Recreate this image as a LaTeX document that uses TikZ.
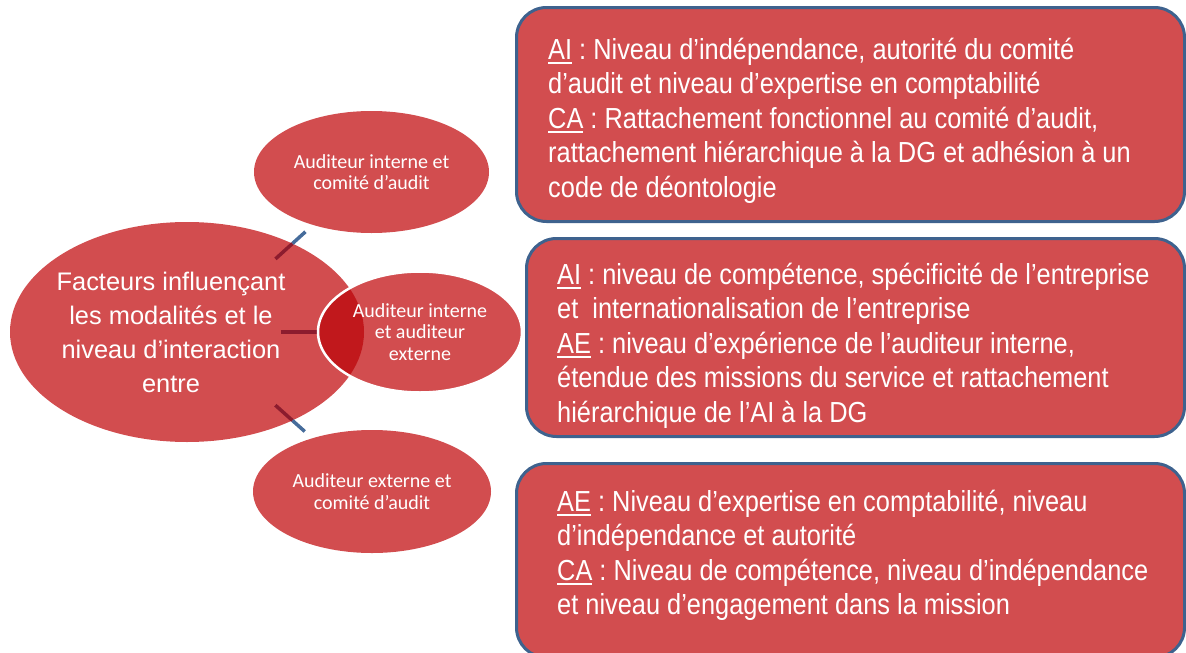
\documentclass[tikz,border=0pt]{standalone}
\usepackage{fontspec}
\setmainfont{Liberation Sans}
\newfontfamily\boxfont[FakeStretch=0.875]{Liberation Sans}
\newfontfamily\ellfont{Carlito}
\usetikzlibrary{positioning,shapes.geometric,calc}
\frenchspacing

\definecolor{redfill}{RGB}{210,77,79}
\definecolor{redoverlap}{RGB}{193,24,28}
\definecolor{linkred}{RGB}{140,28,46}
\definecolor{linkblue}{RGB}{70,108,155}
\definecolor{boxline}{RGB}{62,98,142}

\newcommand\keyw[1]{\setbox0=\hbox{#1}\rlap{\rule[-4.5pt]{\wd0}{2.2pt}}\box0{}}
\newcommand\topline{\rule{0pt}{30pt}}

\begin{document}
\begin{tikzpicture}[x=1pt,y=-1pt,on grid,
   factor/.style={ellipse, fill=redfill, inner sep=0pt, text=white, align=center,
                  font=\ellfont\fontsize{20}{21.5}\selectfont},
   detail/.style={rectangle, rounded corners=30pt, draw=boxline, line width=3pt,
                  fill=redfill, anchor=north west},
   detailtext/.style={text=white, align=left, anchor=north west, inner sep=0pt,
                  font=\boxfont\fontsize{29}{34.5}\selectfont},
   linkin/.style={draw=linkred, line width=3.5pt},
   linkout/.style={draw=linkblue, line width=3.5pt}]
   \useasboundingbox (0,0) rectangle (1186,653);

   \node[ellipse, fill=redfill, minimum width=354pt, minimum height=220pt] (main) at (187,332) {};
   \node[text=white, align=center, font=\fontsize{25.4}{34}\selectfont] (title)
        at ([xshift=-16pt]main.center) {Facteurs influençant\\les modalités et le\\niveau d’interaction\\entre};

   \node[factor, minimum width=235pt, minimum height=122pt] (top) [above right=160pt and 184.5pt of main]
        {Auditeur interne et\\comité d’audit};
   \node[factor, minimum width=238pt, minimum height=123pt] (bot) [below right=159.5pt and 185pt of main]
        {Auditeur externe et\\comité d’audit};

   \draw[linkin]  ($(main.40)!-23pt!(top)$) -- (main.40);
   \draw[linkout, shorten >=10pt] (main.40) -- (top);
   \draw[linkin]  ($(main.-40)!-23pt!(bot)$) -- (main.-40);
   \draw[linkout, shorten >=10pt] (main.-40) -- (bot);
   \draw[linkin]  ($(main.center)!0.53!(main.east)$) -- (main.east);

   \node[factor, minimum width=204pt, minimum height=121pt, draw=white, line width=2.5pt,
         path picture={\fill[redoverlap] (main.center) ellipse [x radius=177pt, y radius=110pt];}]
        (mid) [right=233pt of main] {Auditeur interne\\et auditeur\\externe};

   % boxes on the right
   \node[detail, minimum width=668pt, minimum height=214pt] (box1) at (515,6) {};
   \node[detail, minimum width=658pt, minimum height=198pt] (box2) at (525,237) {};
   \node[detail, minimum width=668pt, minimum height=194pt] (box3) at (515,462) {};

   \node[detailtext] (text1) at (548,29) {\topline\keyw{AI} : Niveau d’indépendance, autorité du comité\\
      d’audit et niveau d’expertise en comptabilité\\
      \keyw{CA} : Rattachement fonctionnel au comité d’audit,\\
      rattachement hiérarchique à la DG et adhésion à un\\
      code de déontologie};
   \node[detailtext] (text2) at (557,254) {\topline\keyw{AI} : niveau de compétence, spécificité de l’entreprise\\
      et~ internationalisation de l’entreprise\\
      \keyw{AE} : niveau d’expérience de l’auditeur interne,\\
      étendue des missions du service et rattachement\\
      hiérarchique de l’AI à la DG};
   \node[detailtext] (text3) at (557,481) {\topline\keyw{AE} : Niveau d’expertise en comptabilité, niveau\\
      d’indépendance et autorité\\
      \keyw{CA} : Niveau de compétence, niveau d’indépendance\\
      et niveau d’engagement dans la mission};
\end{tikzpicture}
\end{document}
